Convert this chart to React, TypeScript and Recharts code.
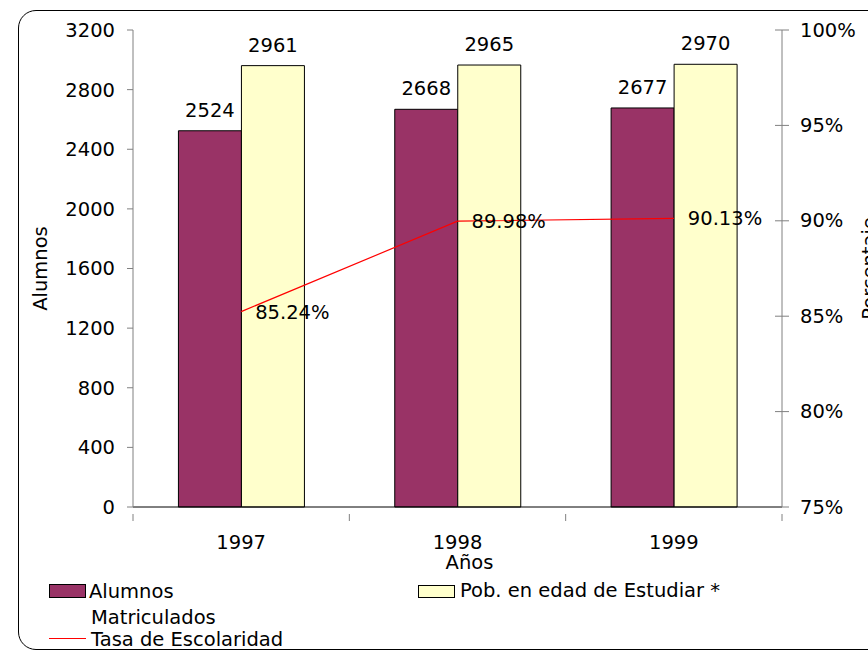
import React from "react";
import { Bar, ComposedChart, LabelList, Line, XAxis, YAxis } from "recharts";

const years = ["1997", "1998", "1999"];
const alumnos = [2524, 2668, 2677];
const poblacion = [2961, 2965, 2970];
const tasa = [85.24, 89.98, 90.13];
const leftTicks = [0, 400, 800, 1200, 1600, 2000, 2400, 2800, 3200];
const rightTicks = [75, 80, 85, 90, 95, 100];

const data = years.map((year, i) => ({
  year,
  alumnos: alumnos[i],
  poblacion: poblacion[i],
  tasa: tasa[i],
}));

const FONT = "'DejaVu Sans', Verdana, sans-serif";
const FS = 19.5;
const PURPLE = "#993366";
const YELLOW = "#FFFFCC";
const AXIS = "#808080";

// category tick: label in the middle, tick marks on the band edges (Excel style)
function CategoryTick(props: any) {
  const { x, y, payload, index, visibleTicksCount } = props;
  const half = payload?.offset || 108;
  const last = index === (visibleTicksCount ?? years.length) - 1;
  return (
    <g>
      <line x1={x - half} x2={x - half} y1={y - 1} y2={y + 6} stroke={AXIS} />
      {last && <line x1={x + half} x2={x + half} y1={y - 1} y2={y + 6} stroke={AXIS} />}
      <text x={x} y={y + 34} textAnchor="middle" fontFamily={FONT} fontSize={FS} fill="#000">
        {payload.value}
      </text>
    </g>
  );
}

// right axis tick crosses the axis line
function PercentTick(props: any) {
  const { x, y, payload } = props;
  return (
    <g>
      <line x1={x - 7} x2={x + 7} y1={y} y2={y} stroke={AXIS} />
      <text x={x + 18} y={y} dominantBaseline="central" fontFamily={FONT} fontSize={FS} fill="#000">
        {`${payload.value}%`}
      </text>
    </g>
  );
}

function Legend() {
  const text: React.CSSProperties = { position: "absolute", fontFamily: FONT, fontSize: FS, lineHeight: 1, whiteSpace: "nowrap" };
  return (
    <>
      <div style={{ position: "absolute", left: 49, top: 584, width: 35, height: 12, background: PURPLE, border: "1px solid #000" }} />
      <div style={{ ...text, left: 89, top: 582 }}>Alumnos</div>
      <div style={{ ...text, left: 91, top: 608 }}>Matriculados</div>
      <div style={{ position: "absolute", left: 49, top: 638, width: 37, height: 1, background: "#FF0000" }} />
      <div style={{ ...text, left: 91, top: 630 }}>Tasa de Escolaridad</div>
      <div style={{ position: "absolute", left: 418, top: 585, width: 35, height: 11, background: YELLOW, border: "1px solid #000" }} />
      <div style={{ ...text, left: 460, top: 581 }}>Pob. en edad de Estudiar *</div>
    </>
  );
}

export default function App() {
  return (
    <div style={{ position: "absolute", left: 0, top: 0, width: 868, height: 650, overflow: "hidden", background: "#fff" }}>
      <div
        style={{
          position: "absolute",
          left: 18,
          top: 10,
          width: 900,
          height: 638,
          border: "1px solid #000",
          borderRadius: 18,
        }}
      />
      <div style={{ position: "absolute", left: 0, top: 0 }}>
        <ComposedChart
          width={868}
          height={650}
          data={data}
          margin={{ top: 30, right: 0, left: 0, bottom: 0 }}
          barCategoryGap="21%"
          barGap={0}
        >
          <XAxis
            dataKey="year"
            height={143}
            tickLine={false}
            stroke="#000"
            tick={<CategoryTick />}
            label={{
              content: ({ viewBox }: any) => (
                <text
                  x={viewBox.x + viewBox.width / 2 + 12}
                  y={viewBox.y + 62}
                  textAnchor="middle"
                  fontFamily={FONT}
                  fontSize={FS}
                  fill="#000"
                >
                  Años
                </text>
              ),
            }}
          />
          <YAxis
            yAxisId="left"
            width={133}
            domain={[0, 3200]}
            ticks={leftTicks}
            interval={0}
            stroke={AXIS}
            tickSize={6}
            tickMargin={12}
            tick={{ fontFamily: FONT, fontSize: FS, fill: "#000" }}
            label={{
              content: ({ viewBox }: any) => {
                const cx = 40;
                const cy = viewBox.y + viewBox.height / 2;
                return (
                  <text
                    x={cx}
                    y={cy}
                    transform={`rotate(-90 ${cx} ${cy})`}
                    textAnchor="middle"
                    dominantBaseline="central"
                    fontFamily={FONT}
                    fontSize={FS}
                    fill="#000"
                  >
                    Alumnos
                  </text>
                );
              },
            }}
          />
          <YAxis
            yAxisId="right"
            orientation="right"
            width={86}
            domain={[75, 100]}
            ticks={rightTicks}
            interval={0}
            stroke={AXIS}
            tickLine={false}
            tickSize={0}
            tickMargin={0}
            tick={<PercentTick />}
            label={{
              content: ({ viewBox }: any) => {
                const cx = viewBox.x + 87;
                const cy = viewBox.y + viewBox.height / 2;
                return (
                  <text
                    x={cx}
                    y={cy}
                    transform={`rotate(-90 ${cx} ${cy})`}
                    textAnchor="middle"
                    dominantBaseline="central"
                    fontFamily={FONT}
                    fontSize={FS}
                    fill="#000"
                  >
                    Porcentaje
                  </text>
                );
              },
            }}
          />
          <Bar yAxisId="left" dataKey="alumnos" fill={PURPLE} stroke="#000" strokeWidth={1} isAnimationActive={false}>
            <LabelList dataKey="alumnos" position="top" offset={14} fill="#000" fontFamily={FONT} fontSize={FS} />
          </Bar>
          <Bar yAxisId="left" dataKey="poblacion" fill={YELLOW} stroke="#000" strokeWidth={1} isAnimationActive={false}>
            <LabelList dataKey="poblacion" position="top" offset={14} fill="#000" fontFamily={FONT} fontSize={FS} />
          </Bar>
          <Line
            yAxisId="right"
            type="linear"
            dataKey="tasa"
            stroke="#FF0000"
            strokeWidth={1.2}
            dot={false}
            activeDot={false}
            isAnimationActive={false}
          >
            <LabelList
              dataKey="tasa"
              position="right"
              offset={14}
              fill="#000"
              fontFamily={FONT}
              fontSize={FS}
              formatter={(v: any) => `${Number(v).toFixed(2)}%`}
            />
          </Line>
        </ComposedChart>
      </div>
      <Legend />
    </div>
  );
}
